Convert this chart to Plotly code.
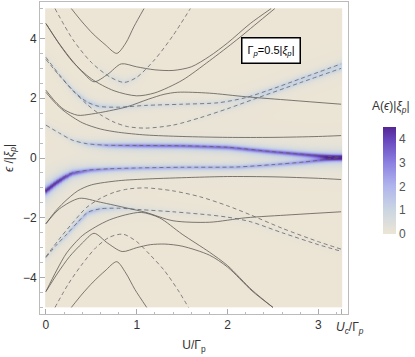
import numpy as np
import plotly.graph_objects as go

# ---------------- data ----------------
# solid curves (x = U/Gamma_p, y = eps/|xi_p|)
A_x = [0.28, 0.4, 0.52, 0.65, 0.78, 0.88, 0.97, 1.08]
A_y = [5.0, 4.55, 4.15, 3.8, 3.5, 3.85, 4.4, 5.0]
C_x = [0, 0.13, 0.26, 0.4, 0.53, 0.68, 0.83, 1.0, 1.2, 1.4, 1.6, 1.8, 2.0, 2.25, 2.48]
C_y = [4.5, 3.9, 3.37, 2.88, 2.55, 2.8, 3.15, 3.05, 2.95, 2.93, 3.05, 3.4, 3.85, 4.5, 5.0]
E_x = [0, 0.15, 0.3, 0.5, 0.75, 1.0, 1.2, 1.5, 1.8, 2.1, 2.3, 2.52]
E_y = [4.5, 3.8, 3.2, 2.65, 2.25, 2.08, 2.18, 2.6, 3.25, 3.95, 4.45, 5.0]
F_x = [0, 0.1, 0.2, 0.35, 0.5, 0.7, 0.9, 1.13, 1.3, 1.45, 1.8, 2.2, 2.7, 3.25]
F_y = [2.27, 1.9, 1.62, 1.43, 1.47, 1.58, 1.72, 1.97, 2.13, 2.2, 2.17, 2.05, 1.93, 1.8]
I_x = [0, 0.1, 0.2, 0.4, 0.6, 0.8, 1.1, 1.5, 2.0, 2.5, 3.0, 3.25]
I_y = [2.2, 1.85, 1.57, 1.18, 0.97, 0.86, 0.77, 0.72, 0.69, 0.69, 0.72, 0.75]
Ab_x = [0.28, 0.4, 0.52, 0.65, 0.78, 0.88, 0.98, 1.11]
Ab_y = [-5.0, -4.55, -4.15, -3.78, -3.47, -3.85, -4.4, -5.0]
Cb_x = [0, 0.13, 0.26, 0.4, 0.53, 0.68, 0.84, 1.0, 1.15, 1.31, 1.5, 1.8, 2.0, 2.27, 2.5]
Cb_y = [-4.47, -3.85, -3.3, -2.85, -2.52, -2.85, -3.13, -3.0, -2.9, -2.88, -2.95, -3.25, -3.65, -4.45, -5.0]
Eb_x = [0, 0.12, 0.23, 0.4, 0.55, 0.7, 0.88, 1.05, 1.25, 1.5, 1.8, 2.0, 2.27, 2.5]
Eb_y = [-4.47, -3.75, -3.17, -2.6, -2.3, -2.07, -1.9, -1.82, -2.0, -2.55, -3.15, -3.6, -4.42, -5.0]
Nb_x = [0, 0.15, 0.37, 0.6, 0.9, 1.1, 1.4, 1.8, 2.2, 2.7, 3.25]
Nb_y = [-2.2, -1.7, -1.35, -1.48, -1.68, -1.82, -2.1, -2.15, -2.0, -1.9, -1.8]
Lb_x = [0, 0.1, 0.2, 0.35, 0.5, 0.8, 1.13, 1.6, 2.0, 2.5, 3.0, 3.25]
Lb_y = [-2.2, -1.8, -1.48, -1.1, -0.9, -0.76, -0.7, -0.65, -0.62, -0.63, -0.68, -0.72]

# dashed curves
B_x = [0.1, 0.3, 0.5, 0.7, 0.86, 1.0, 1.2, 1.4, 1.59]
B_y = [5.0, 3.95, 3.2, 2.72, 2.53, 2.7, 3.3, 4.1, 5.0]
G_x = [0, 0.15, 0.3, 0.45, 0.6, 0.75, 0.9, 1.1, 1.4, 1.7, 2.0, 2.3, 2.8, 3.25]
G_y = [3.3, 2.75, 2.25, 1.8, 1.45, 1.2, 1.05, 1.0, 1.1, 1.35, 1.65, 1.98, 2.52, 3.0]
H_x = [0, 0.15, 0.3, 0.45, 0.58, 0.8, 1.1, 1.5, 1.9, 2.2, 2.5, 2.8, 3.25]
H_y = [3.37, 2.78, 2.25, 1.88, 1.73, 1.7, 1.76, 1.8, 1.85, 2.02, 2.32, 2.65, 3.15]
J_x = [0, 0.15, 0.29, 0.45, 0.66, 1.0, 1.5, 2.0, 2.47, 2.85, 3.25]
J_y = [1.1, 0.83, 0.6, 0.48, 0.43, 0.42, 0.41, 0.36, 0.22, 0.12, 0.02]
K_x = [0, 0.1, 0.2, 0.29, 0.48, 0.7, 1.05, 1.5, 2.1, 2.5, 2.85, 3.25]
K_y = [-1.07, -0.83, -0.63, -0.5, -0.4, -0.36, -0.33, -0.31, -0.3, -0.22, -0.13, 0.02]
Bb_x = [0.1, 0.25, 0.4, 0.55, 0.7, 0.85, 1.0, 1.15, 1.3, 1.45, 1.57]
Bb_y = [-5.0, -4.2, -3.55, -3.0, -2.65, -2.55, -2.8, -3.25, -3.75, -4.4, -5.0]
Gb_x = [0, 0.15, 0.3, 0.45, 0.6, 0.75, 0.9, 1.1, 1.4, 1.7, 2.0, 2.25, 2.6, 3.0, 3.25]
Gb_y = [-3.3, -2.7, -2.15, -1.65, -1.35, -1.15, -1.04, -1.0, -1.1, -1.3, -1.6, -1.9, -2.35, -2.8, -3.05]
Hb_x = [0, 0.12, 0.23, 0.35, 0.46, 0.6, 0.8, 1.05, 1.4, 1.78, 2.0, 2.25, 2.6, 3.0, 3.25]
Hb_y = [-3.33, -2.9, -2.55, -2.15, -1.82, -1.7, -1.68, -1.73, -1.8, -1.9, -1.98, -2.13, -2.5, -2.9, -3.12]

# spectral-weight peak heights along the bright bands
J_amp_x = [0, 0.2, 0.35, 0.5, 0.7, 1.0, 1.5, 2.0, 2.5, 3.0, 3.25]
J_amp = [0.3, 0.5, 0.9, 1.6, 2.4, 3.0, 3.2, 3.3, 3.5, 3.8, 4.2]
K_amp_x = [0, 0.15, 0.3, 0.45, 0.6, 0.8, 1.0, 1.5, 2.0, 2.5, 2.9, 3.25]
K_amp = [4.5, 4.3, 3.6, 3.0, 2.6, 2.3, 2.1, 2.0, 2.0, 2.1, 2.4, 2.8]
H_amp_x = [0, 0.15, 0.3, 0.45, 0.6, 0.8, 1.0, 1.5, 2.0, 2.4, 2.8, 3.25]
H_amp = [0.3, 0.6, 1.0, 1.3, 1.2, 0.9, 0.7, 0.6, 0.7, 0.9, 1.0, 1.0]
G_amp_x = [0, 1.5, 2.0, 2.4, 2.8, 3.25]
G_amp = [0.0, 0.1, 0.4, 0.7, 0.8, 0.8]
Hb_amp_x = [0, 0.15, 0.3, 0.45, 0.6, 0.8, 1.0, 1.5, 2.0, 3.25]
Hb_amp = [0.4, 0.9, 1.5, 1.8, 1.5, 0.9, 0.5, 0.3, 0.2, 0.1]
B_amp_x = [0.5, 0.7, 0.86, 1.0, 1.2]
B_amp = [0.0, 0.4, 0.6, 0.4, 0.0]

# ---------------- heatmap from the bands ----------------
xg = np.linspace(0, 3.25, 200)
yg = np.linspace(-5, 5, 601)
Z = np.zeros((yg.size, xg.size))

bands = [
    (J_x, J_y, J_amp_x, J_amp, [0, 3.25], [0.08, 0.08]),
    (K_x, K_y, K_amp_x, K_amp, [0, 0.3, 0.6, 3.25], [0.12, 0.09, 0.075, 0.075]),
    (H_x, H_y, H_amp_x, H_amp, [0, 3.25], [0.08, 0.08]),
    (G_x, G_y, G_amp_x, G_amp, [0, 3.25], [0.07, 0.07]),
    (Hb_x, Hb_y, Hb_amp_x, Hb_amp, [0, 3.25], [0.09, 0.09]),
    (B_x, B_y, B_amp_x, B_amp, [0, 3.25], [0.1, 0.1]),
]
for bx, by, ax_, aa, wx, wv in bands:
    pos = np.interp(xg, bx, by)
    amp = np.interp(xg, ax_, aa, left=aa[0] if ax_[0] == 0 else 0, right=aa[-1])
    w = np.interp(xg, wx, wv)
    Z += amp[None, :] / (1 + ((yg[:, None] - pos[None, :]) / w[None, :]) ** 2)
Z = np.round(np.clip(Z, 0, 4.5), 3)

colorscale = [
    [0.0, 'rgb(236,229,213)'],
    [0.222, 'rgb(203,214,226)'],
    [0.444, 'rgb(176,182,236)'],
    [0.667, 'rgb(140,128,225)'],
    [0.889, 'rgb(102,68,186)'],
    [1.0, 'rgb(84,38,148)'],
]

fig = go.Figure()
fig.add_trace(go.Heatmap(
    x=xg, y=yg, z=Z, zmin=0, zmax=4.5, zsmooth='best', colorscale=colorscale,
    hoverinfo='skip',
    colorbar=dict(x=1.08, xanchor='left', y=0.428, yanchor='middle', len=127, lenmode='pixels',
                  thickness=13, outlinewidth=0, tickvals=[0, 1, 2, 3, 4], ticks='',
                  tickfont=dict(size=12, color='#555'))))

solid = [(A_x, A_y), (C_x, C_y), (E_x, E_y), (F_x, F_y), (I_x, I_y),
         (Ab_x, Ab_y), (Cb_x, Cb_y), (Eb_x, Eb_y), (Nb_x, Nb_y), (Lb_x, Lb_y)]
dashed = [(B_x, B_y), (G_x, G_y), (H_x, H_y), (J_x, J_y), (K_x, K_y),
          (Bb_x, Bb_y), (Gb_x, Gb_y), (Hb_x, Hb_y)]
for cx, cy in solid:
    fig.add_trace(go.Scatter(x=cx, y=cy, mode='lines', hoverinfo='skip', showlegend=False,
                             line=dict(color='rgba(95,92,85,0.9)', width=0.9, shape='spline', smoothing=0.8)))
for cx, cy in dashed:
    fig.add_trace(go.Scatter(x=cx, y=cy, mode='lines', hoverinfo='skip', showlegend=False,
                             line=dict(color='rgba(95,95,100,0.85)', width=0.9, dash='4px,3px',
                                       shape='spline', smoothing=0.8)))

font = 'Liberation Sans, Arial, sans-serif'
fig.update_layout(
    width=415, height=357, margin=dict(l=40, r=63, t=2, b=43),
    paper_bgcolor='white', plot_bgcolor='white', showlegend=False,
    font=dict(family=font, size=12, color='#333'),
    xaxis=dict(range=[-0.065, 3.326], showgrid=False, zeroline=False, showline=True, mirror=True,
               linecolor='#bbb', linewidth=1, ticks='inside', ticklen=5, tickcolor='#aaa',
               tickvals=[0, 1, 2, 3, 3.25], ticktext=['0', '1', '2', '3', ''],
               minor=dict(ticks='inside', ticklen=2.5, dtick=0.2, tick0=0, tickcolor='#bbb'),
               title=dict(text='U/Γ<sub>p</sub>', font=dict(size=12), standoff=9)),
    yaxis=dict(range=[-5.22, 5.22], showgrid=False, zeroline=False, showline=True, mirror=True,
               linecolor='#bbb', linewidth=1, ticks='inside', ticklen=5, tickcolor='#aaa',
               tickvals=[-4, -2, 0, 2, 4],
               minor=dict(ticks='inside', ticklen=2.5, dtick=0.5, tick0=0, tickcolor='#bbb'),
               title=dict(text='<i>ϵ</i> /|<i>ξ<sub>p</sub></i>|', font=dict(size=12), standoff=6)),
    annotations=[
        dict(xref='paper', yref='paper', x=0.849, y=0.888, showarrow=False,
             text='Γ<sub><i>p</i></sub>=0.5|<i>ξ<sub>p</sub></i>|', font=dict(size=11, color='black'),
             bgcolor='white', bordercolor='black', borderwidth=1.5, borderpad=5),
        dict(xref='x', yref='paper', x=3.25, y=0, xanchor='left', yanchor='top', xshift=-7, yshift=-4,
             showarrow=False, text='<i>U<sub>c</sub></i>/Γ<sub><i>p</i></sub>', font=dict(size=12, color='#333')),
        dict(xref='paper', yref='paper', x=1.072, y=0.665, xanchor='left', yanchor='middle',
             showarrow=False, text='A(<i>ϵ</i>)|<i>ξ<sub>p</sub></i>|', font=dict(size=12, color='#333')),
    ],
)
fig.write_html('out.html', config={'displayModeBar': False},
               post_script="document.body.style.margin='0';document.body.style.overflow='hidden';")
